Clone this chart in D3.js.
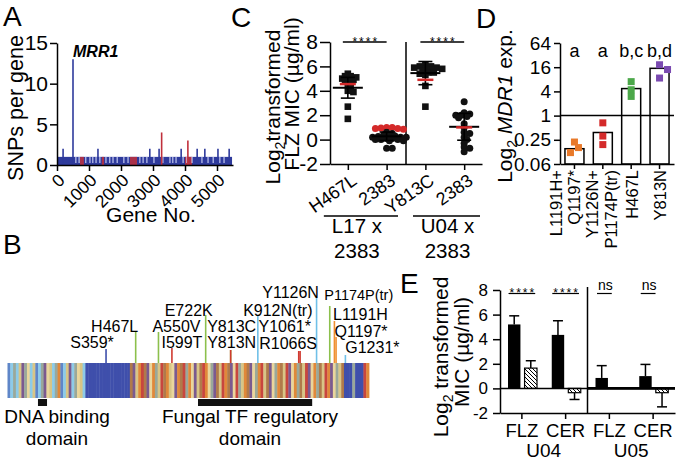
<!DOCTYPE html>
<html><head><meta charset="utf-8">
<script src="https://cdn.jsdelivr.net/npm/d3@7"></script>
<style>body{margin:0;background:#fff}svg{display:block}</style>
</head><body>
<svg id="fig" width="677" height="461" font-family="'Liberation Sans', Arial, Helvetica, sans-serif"></svg>
<script>
// ================= DATA =================
// Panel A: SNPs per gene
const geneTicks = [0, 1000, 2000, 3000, 4000, 5000];
const snpTicks = [0, 5, 10, 15];
const bandSegments = [[0, 5470]];               // genes carrying 1 SNP (blue band)
const bandRed = [[720, 840], [1400, 1470], [2280, 2500], [4000, 4220]];
const bandGaps = [590, 690, 900, 1030, 1120, 1220, 1340, 1530, 1650, 1750, 1880, 2090, 2220, 2590, 2690,
  2810, 3030, 3310, 3530, 3620, 3720, 3940, 4060, 4220, 4530, 4720, 4880, 5090, 5220];
const spikeGenes = [190, 500, 1280, 2900, 3190, 3270, 3880, 4090, 4380, 4620, 5030, 5380];
const spikeSNPs  = [2, 13, 2, 2, 2, 4, 2, 3, 2, 2, 2, 2];
const spikeType  = ['b', 'b', 'b', 'b', 'b', 'r', 'b', 'r', 'b', 'b', 'b', 'b'];

// Panel B: MRR1 protein
const proteinLength = 1317;
const stripeCodes = "9161346813916483162913416831" + "0000000000000000" +
  "7432574826357238427562843752864735274856327486253748627354826735482673524863" + "7" + "000600052";
const domainNames = [["DNA binding", "domain"], ["Fungal TF regulatory", "domain"]];
const domainStart = [111, 694];
const domainEnd = [144, 1110];
const mutNames = ['S359*', 'H467L', 'A550V', 'I599T', 'E722K', 'Y813C', 'Y813N', 'K912N(tr)', 'Y1061*', 'R1066S', 'Y1126N', 'P1174P(tr)', 'L1191H', 'Q1197*', 'G1231*'];
const mutPos = [359, 467, 550, 599, 722, 813, 813, 912, 1061, 1066, 1126, 1174, 1191, 1197, 1231];
const mutType = ['db', 'g', 'g', 'r', 'g', 'g', 'r', 'lb', 'r', 'r', 'lb', 'g', 'o', 'o', 'lb'];

// Panel C: log2 FLZ MIC
const cCats = ['H467L', '2383a', 'Y813C', '2383b'];
const cTickLabels = ['H467L', '2383', 'Y813C', '2383'];
const cShape = ['square', 'circle', 'square', 'circle'];
const cPoints = [
  [5.4, 5.2, 5.2, 5.1, 5.0, 5.0, 4.9, 4.8, 4.7, 4.5, 4.3, 4.0, 3.9, 2.7, 1.7],
  [0.6, 0.5, 0.4, 0.3, 0.3, 0.25, 0.2, 0.2, 0.2, 0.1, 0.1, 0.0, 0.0, 0.0, -0.1, -0.1, -0.7, -0.7],
  [6.1, 6.0, 6.0, 5.9, 5.9, 5.8, 5.8, 5.7, 5.6, 5.5, 5.5, 5.4, 5.3, 4.4, 2.7],
  [3.1, 2.2, 2.1, 2.0, 2.0, 1.9, 1.8, 1.3, 1.0, 0.6, 0.5, 0.2, 0.0, -0.3, -0.6, -0.7, -1.0]
];
const cRedPoints = [[], [1.0, 1.0, 0.95, 0.9, 0.9, 0.85], [], []];
const cMean = [4.25, 0.27, 5.45, 1.05];
const cSD = [0.85, 0.35, 0.95, 1.1];
const cRedMean = [4.55, 1.0, 4.9, 1.0];
const cGroups = [["L17 x", "2383"], ["U04 x", "2383"]];
const cSig = ['****', '****'];
const cTicks = [-2, 0, 2, 4, 6, 8];

// Panel D: MDR1 expression
const dLabels = [['L1191H+', 'Q1197*'], ['Y1126N+', 'P1174P(tr)'], ['H467L'], ['Y813N']];
const dBars = [0.15, 0.38, 4.7, 15];
const dPoints = [[0.22, 0.16, 0.12], [0.66, 0.31, 0.19], [7.0, 4.4, 3.0], [18.4, 14, 8.6]];
const dLetters = ['a', 'a', 'b,c', 'b,d'];
const dTicks = [0.0625, 0.25, 1, 4, 16, 64];
const dTickLabels = ['0.06', '0.25', '1', '4', '16', '64'];

// Panel E: log2 MIC
const eCats = ['FLZ-U04', 'CER-U04', 'FLZ-U05', 'CER-U05'];
const eDrug = ['FLZ', 'CER', 'FLZ', 'CER'];
const eStrains = ['U04', 'U05'];
const eMutant = [5.2, 4.35, 0.85, 1.0];
const eMutantErr = [0.7, 1.15, 1.0, 0.95];
const eParent = [1.65, -0.35, 0.0, -0.35];
const eParentErr = [0.6, 0.55, 0.0, 1.15];
const eSig = ['****', '****', 'ns', 'ns'];
const eTicks = [-2, 0, 2, 4, 6, 8];

// ================= STYLE =================
const BLUE = '#2e3a9c', RED = '#c0303c';
const palette = ['#3f4fab', '#8dcbe8', '#e0883a', '#d8c586', '#7b5a8f', '#c8463e', '#9aa89a', '#b07a4a', '#ead69c', '#5f86c8'];
const mutColor = {db: '#3f4fab', g: '#8cc04c', r: '#d03a30', lb: '#70c0e8', o: '#f09030'};
const dColors = ['#e8792a', '#d42a2a', '#4ca84a', '#7a4ab0'];

const svg = d3.select('#fig');
function styleAxis(g, fs) {
  g.attr('font-family', null);
  g.selectAll('.domain').attr('stroke', '#000').attr('stroke-width', 1.5);
  g.selectAll('.tick line').attr('stroke', '#000').attr('stroke-width', 1.5);
  g.selectAll('.tick text').attr('font-size', fs).attr('fill', '#000');
}
function panelLetter(t, x, y) {
  svg.append('text').attr('x', x).attr('y', y).attr('font-size', 28).text(t);
}
function swarm(items, yScale, cx, step, minDist) {
  const placed = [];
  const sorted = items.slice().sort((a, b) => b.v - a.v);
  for (const p of sorted) {
    const y = yScale(p.v);
    for (let k = 0; k < 60; k++) {
      const off = (k % 2 ? 1 : -1) * Math.ceil(k / 2) * step;
      const x = cx + off;
      if (placed.every(q => Math.hypot(q.x - x, q.y - y) >= minDist)) { placed.push(Object.assign({x, y}, p)); break; }
    }
  }
  return placed;
}
function stars(g, x, y, txt) {
  return g.append('text').attr('x', x).attr('y', y).attr('text-anchor', 'middle')
    .attr('font-size', 12).attr('letter-spacing', 2).text(txt);
}

// ================= PANEL A =================
panelLetter('A', 3, 26);
{
  const ax = d3.scaleLinear().domain([0, 5500]).range([57, 233]);
  const ay = d3.scaleLinear().domain([0, 15]).range([165, 43]);
  const g = svg.append('g');
  g.selectAll('rect.band').data(bandSegments).join('rect')
    .attr('x', d => ax(d[0])).attr('width', d => ax(d[1]) - ax(d[0]))
    .attr('y', ay(1)).attr('height', ay(0) - ay(1)).attr('fill', BLUE);
  g.selectAll('rect.red').data(bandRed).join('rect')
    .attr('x', d => ax(d[0])).attr('width', d => ax(d[1]) - ax(d[0]))
    .attr('y', ay(1)).attr('height', ay(0) - ay(1)).attr('fill', RED).attr('opacity', 0.85);
  g.selectAll('line.gap').data(bandGaps).join('line')
    .attr('x1', d => ax(d)).attr('x2', d => ax(d)).attr('y1', ay(1)).attr('y2', ay(0) - 2)
    .attr('stroke', '#dfe3ff').attr('stroke-width', 1);
  g.selectAll('line.spike').data(spikeGenes).join('line')
    .attr('x1', d => ax(d)).attr('x2', d => ax(d)).attr('y1', ay(0))
    .attr('y2', (d, i) => ay(spikeSNPs[i]))
    .attr('stroke', (d, i) => spikeType[i] === 'r' ? RED : BLUE).attr('stroke-width', 1.6);
  const yAx = g.append('g').attr('transform', 'translate(57,0)')
    .call(d3.axisLeft(ay).tickValues(snpTicks).tickSize(7).tickSizeOuter(0).tickPadding(2));
  styleAxis(yAx, 21);
  const xAx = g.append('g').attr('transform', 'translate(0,165)')
    .call(d3.axisBottom(ax).tickValues(geneTicks).tickSize(6).tickSizeOuter(0).tickFormat(d => String(d)));
  styleAxis(xAx, 17.5);
  xAx.selectAll('.tick text').attr('x', 0).attr('y', 0).attr('dy', '0.35em')
    .attr('text-anchor', 'end').attr('transform', 'translate(4,12) rotate(-45)');
  g.append('text').attr('x', ax(spikeGenes[1])).attr('y', 57).attr('font-size', 16)
    .attr('font-weight', 'bold').attr('font-style', 'italic').text('MRR1');
  g.append('text').attr('transform', 'translate(23,108) rotate(-90)').attr('text-anchor', 'middle')
    .attr('font-size', 21.5).text('SNPs per gene');
  g.append('text').attr('x', 151).attr('y', 222).attr('text-anchor', 'middle')
    .attr('font-size', 21).text('Gene No.');
}

// ================= PANEL B =================
panelLetter('B', 3, 254);
{
  const px = d3.scaleLinear().domain([0, proteinLength]).range([7.5, 369]);
  const g = svg.append('g');
  const codes = stripeCodes.split('');
  const w = proteinLength / codes.length;
  g.selectAll('rect.stripe').data(codes).join('rect')
    .attr('x', (d, i) => px(i * w)).attr('width', (d, i) => px((i + 1) * w) - px(i * w) + 0.4)
    .attr('y', 363).attr('height', 35).attr('fill', d => palette[+d]);
  // mutation lines & labels (layout: label centre offsets, label baselines, line tops, sizes)
  const labelDx = [-14, -21, 18, 10, -17, 1, 1, 20, -14, -12, -26, 29, 26, 25, 27];
  const labelY  = [348, 332, 332, 348, 316, 332, 348, 316, 332, 349, 298, 300, 320, 337, 353];
  const labelFs = [16, 16, 16, 16, 16, 16, 16, 16, 16, 16, 16, 14.5, 16, 16, 16];
  const lineTop = [349, 332, 332, 348, 315, 350, 350, 315, 351, 351, 298, 306, 321, 337, 355];
  g.selectAll('line.mut').data(mutPos).join('line')
    .attr('x1', d => px(d)).attr('x2', d => px(d)).attr('y1', 363).attr('y2', (d, i) => lineTop[i])
    .attr('stroke', (d, i) => mutColor[mutType[i]]).attr('stroke-width', 1.6);
  g.selectAll('text.mut').data(mutNames).join('text')
    .attr('x', (d, i) => px(mutPos[i]) + labelDx[i]).attr('y', (d, i) => labelY[i])
    .attr('text-anchor', 'middle').attr('font-size', (d, i) => labelFs[i]).text(d => d);
  // domains
  const dLabelX = [57, 250];
  g.selectAll('rect.dom').data(domainStart).join('rect')
    .attr('x', d => px(d)).attr('width', (d, i) => px(domainEnd[i]) - px(d))
    .attr('y', 399).attr('height', 7).attr('fill', '#111');
  domainNames.forEach((lines, i) => {
    lines.forEach((t, j) => {
      g.append('text').attr('x', dLabelX[i]).attr('y', 423 + j * 22).attr('text-anchor', 'middle')
        .attr('font-size', 19).text(t);
    });
  });
}

// ================= PANEL C =================
panelLetter('C', 231, 27);
{
  const cx = d3.scalePoint().domain(cCats).range([330, 482]).padding(0.46);
  const cy = d3.scaleLinear().domain([-2, 8]).range([164, 42]);
  const g = svg.append('g');
  const yAx = g.append('g').attr('transform', 'translate(330,0)')
    .call(d3.axisLeft(cy).tickValues(cTicks).tickSize(10).tickSizeOuter(0).tickPadding(2).tickFormat(d => String(d)));
  styleAxis(yAx, 21);
  const xAx = g.append('g').attr('transform', 'translate(0,164)')
    .call(d3.axisBottom(cx).tickSize(6).tickSizeOuter(0).tickFormat((d, i) => cTickLabels[i]));
  styleAxis(xAx, 18);
  xAx.selectAll('.tick text').attr('x', 0).attr('y', 0).attr('dy', '0.35em')
    .attr('text-anchor', 'end').attr('transform', 'translate(6,14) rotate(-35)');
  const divX = (cx(cCats[1]) + cx(cCats[2])) / 2;
  g.append('line').attr('x1', divX).attr('x2', divX).attr('y1', cy(8)).attr('y2', cy(-2))
    .attr('stroke', '#000').attr('stroke-width', 1.5);
  [[0, 1], [2, 3]].forEach((pr, i) => {
    const x1 = cx(cCats[pr[0]]) - 5, x2 = cx(cCats[pr[1]]);
    g.append('line').attr('x1', x1).attr('x2', x2).attr('y1', cy(8)).attr('y2', cy(8))
      .attr('stroke', '#000').attr('stroke-width', 1.3);
    stars(g, (x1 + x2) / 2 + 1, cy(8) + 3.6, cSig[i]);
  });
  cCats.forEach((c, i) => {
    const items = cPoints[i].map(v => ({v, col: '#111'})).concat(cRedPoints[i].map(v => ({v, col: '#d42a2a'})));
    const pts = swarm(items, cy, cx(c), 2.8, 3.4);
    if (cShape[i] === 'square') {
      g.selectAll(null).data(pts).join('rect').attr('x', d => d.x - 3.3).attr('y', d => d.y - 3.3)
        .attr('width', 6.6).attr('height', 6.6).attr('fill', d => d.col);
    } else {
      g.selectAll(null).data(pts).join('circle').attr('cx', d => d.x).attr('cy', d => d.y)
        .attr('r', 3.5).attr('fill', d => d.col);
    }
    const x0 = cx(c);
    g.append('line').attr('x1', x0).attr('x2', x0).attr('y1', cy(cMean[i] - cSD[i])).attr('y2', cy(cMean[i] + cSD[i]))
      .attr('stroke', '#000').attr('stroke-width', 1.6);
    [cMean[i] - cSD[i], cMean[i] + cSD[i]].forEach(v => {
      g.append('line').attr('x1', x0 - 7).attr('x2', x0 + 7).attr('y1', cy(v)).attr('y2', cy(v))
        .attr('stroke', '#000').attr('stroke-width', 1.6);
    });
    g.append('line').attr('x1', x0 - 15).attr('x2', x0 + 15).attr('y1', cy(cMean[i])).attr('y2', cy(cMean[i]))
      .attr('stroke', '#000').attr('stroke-width', 2);
    g.append('line').attr('x1', x0 - 8).attr('x2', x0 + 8).attr('y1', cy(cRedMean[i])).attr('y2', cy(cRedMean[i]))
      .attr('stroke', '#d42a2a').attr('stroke-width', 2.5);
  });
  const brackets = [[cx(cCats[0]) - 24, divX - 8], [divX + 7, 480]];
  brackets.forEach((b, i) => {
    g.append('line').attr('x1', b[0]).attr('x2', b[1]).attr('y1', 216).attr('y2', 216)
      .attr('stroke', '#000').attr('stroke-width', 1.3);
    const mid = i === 0 ? (b[0] + b[1]) / 2 - 4 : (b[0] + b[1]) / 2 + 1;
    cGroups[i].forEach((t, j) => {
      g.append('text').attr('x', mid).attr('y', 233 + j * 25).attr('text-anchor', 'middle')
        .attr('font-size', 20.5).text(t);
    });
  });
  const t1 = g.append('text').attr('transform', 'translate(280,107) rotate(-90)').attr('text-anchor', 'middle').attr('font-size', 21);
  t1.append('tspan').text('Log');
  t1.append('tspan').attr('dy', 5).attr('font-size', 14).text('2');
  t1.append('tspan').attr('dy', -5).text('transformed');
  g.append('text').attr('transform', 'translate(299,94) rotate(-90)').attr('text-anchor', 'middle')
    .attr('font-size', 21).text('FLZ MIC (µg/ml)');
}

// ================= PANEL D =================
panelLetter('D', 476, 28);
{
  const dx = d3.scaleBand().domain(d3.range(dBars.length)).range([560, 674]).paddingInner(0.33).paddingOuter(0.175);
  const dy = d3.scaleLog().base(2).domain([0.0625, 64]).range([164, 43]);
  const g = svg.append('g');
  g.selectAll('rect.bar').data(dBars).join('rect')
    .attr('x', (d, i) => dx(i)).attr('width', dx.bandwidth())
    .attr('y', d => dy(d)).attr('height', d => dy(0.0625) - dy(d))
    .attr('fill', '#fff').attr('stroke', '#000').attr('stroke-width', 1.5);
  dPoints.forEach((arr, i) => {
    const pts = swarm(arr.map(v => ({v})), dy, dx(i) + dx.bandwidth() / 2, 4, 6.5);
    g.selectAll(null).data(pts).join('rect').attr('x', d => d.x - 3.5).attr('y', d => d.y - 3.5)
      .attr('width', 7).attr('height', 7).attr('fill', dColors[i]);
  });
  g.append('line').attr('x1', 560).attr('x2', 674).attr('y1', dy(1)).attr('y2', dy(1))
    .attr('stroke', '#000').attr('stroke-width', 1.5);
  const yAx = g.append('g').attr('transform', 'translate(560,0)')
    .call(d3.axisLeft(dy).tickValues(dTicks).tickSize(6).tickSizeOuter(0).tickPadding(3)
      .tickFormat((d, i) => dTickLabels[i]));
  styleAxis(yAx, 19);
  const xAx = g.append('g').attr('transform', 'translate(0,164)')
    .call(d3.axisBottom(dx).tickSize(5).tickSizeOuter(0).tickFormat(''));
  styleAxis(xAx, 16);
  const dLabelOff = [[-12, 5.5], [-5, 14], [6.5], [6]];
  dLabels.forEach((lines, i) => {
    const c = dx(i) + dx.bandwidth() / 2;
    lines.forEach((t, j) => {
      const bx = c + dLabelOff[i][j];
      g.append('text').attr('transform', `translate(${bx},170) rotate(-90)`).attr('text-anchor', 'end')
        .attr('font-size', 16.5).text(t);
    });
  });
  g.selectAll('text.letter').data(dLetters).join('text')
    .attr('x', (d, i) => dx(i) + dx.bandwidth() / 2).attr('y', 57).attr('text-anchor', 'middle')
    .attr('font-size', 18).text(d => d);
  const t = g.append('text').attr('transform', 'translate(512,106) rotate(-90)').attr('text-anchor', 'middle').attr('font-size', 21);
  t.append('tspan').text('Log');
  t.append('tspan').attr('dy', 5).attr('font-size', 14).text('2');
  t.append('tspan').attr('dy', -5).text(' ');
  t.append('tspan').attr('font-style', 'italic').text('MDR1');
  t.append('tspan').text(' exp.');
}

// ================= PANEL E =================
panelLetter('E', 400, 293);
{
  const ex = d3.scaleBand().domain(eCats).range([500, 675]);
  const inner = d3.scaleBand().domain(['mut', 'par']).range([8, 37]).paddingInner(0.25);
  const ey = d3.scaleLinear().domain([-2, 8]).range([413, 290]);
  const g = svg.append('g');
  const defs = svg.append('defs');
  const pat = defs.append('pattern').attr('id', 'hatch').attr('patternUnits', 'userSpaceOnUse')
    .attr('width', 4).attr('height', 4);
  pat.append('rect').attr('width', 4).attr('height', 4).attr('fill', '#fff');
  pat.append('path').attr('d', 'M-1,-1 L5,5 M-1,3 L1,5 M3,-1 L5,1').attr('stroke', '#000').attr('stroke-width', 1);

  const series = [
    {key: 'mut', vals: eMutant, errs: eMutantErr, fill: '#000'},
    {key: 'par', vals: eParent, errs: eParentErr, fill: 'url(#hatch)'}
  ];
  series.forEach(s => {
    g.selectAll(null).data(eCats).join('g').each(function (c, i) {
      const v = s.vals[i], e = s.errs[i];
      if (e <= 0) return;
      const x = ex(c) + inner(s.key) + inner.bandwidth() / 2;
      const end = v >= 0 ? v + e : v - e;
      const sel = d3.select(this);
      sel.append('line').attr('x1', x).attr('x2', x).attr('y1', ey(v)).attr('y2', ey(end))
        .attr('stroke', '#000').attr('stroke-width', 1.5);
      sel.append('line').attr('x1', x - 5).attr('x2', x + 5).attr('y1', ey(end)).attr('y2', ey(end))
        .attr('stroke', '#000').attr('stroke-width', 1.5);
    });
    g.selectAll(null).data(eCats).join('rect')
      .attr('x', c => ex(c) + inner(s.key)).attr('width', inner.bandwidth())
      .attr('y', (c, i) => ey(Math.max(0, s.vals[i])))
      .attr('height', (c, i) => Math.abs(ey(s.vals[i]) - ey(0)))
      .attr('fill', s.fill).attr('stroke', '#000').attr('stroke-width', s.key === 'par' ? 1.2 : 0);
  });
  g.append('line').attr('x1', 500).attr('x2', 675).attr('y1', ey(0)).attr('y2', ey(0))
    .attr('stroke', '#000').attr('stroke-width', 1.5);
  const divX = ex(eCats[2]);
  g.append('line').attr('x1', divX).attr('x2', 675).attr('y1', ey(0)).attr('y2', ey(0))
    .attr('stroke', '#000').attr('stroke-width', 2.6);
  g.append('line').attr('x1', divX).attr('x2', divX).attr('y1', ey(8) - 3).attr('y2', ey(-2))
    .attr('stroke', '#000').attr('stroke-width', 1.5);
  const yAx = g.append('g').attr('transform', 'translate(500,0)')
    .call(d3.axisLeft(ey).tickValues(eTicks).tickSize(7).tickSizeOuter(0).tickPadding(5).tickFormat(d => String(d)));
  styleAxis(yAx, 17);
  const xAx = g.append('g').attr('transform', 'translate(0,413)')
    .call(d3.axisBottom(ex).tickSize(6).tickSizeOuter(0).tickPadding(5).tickFormat((d, i) => eDrug[i]));
  styleAxis(xAx, 18.5);
  eStrains.forEach((s, i) => {
    const x = (ex(eCats[2 * i]) + ex(eCats[2 * i + 1]) + ex.bandwidth()) / 2;
    g.append('text').attr('x', x).attr('y', 457).attr('text-anchor', 'middle').attr('font-size', 19).text(s);
  });
  eCats.forEach((c, i) => {
    const isStar = eSig[i] !== 'ns';
    const x = ex(c) + ex.bandwidth() / 2 + (isStar ? 1 : -4);
    let t;
    if (isStar) t = stars(g, x, 296.6, eSig[i]);
    else t = g.append('text').attr('x', x).attr('y', 290).attr('text-anchor', 'middle').attr('font-size', 14).text(eSig[i]);
    const w = Math.max(t.node().getComputedTextLength(), 14);
    g.append('line').attr('x1', x - w / 2 - 1).attr('x2', x + w / 2 - 1).attr('y1', 293.5).attr('y2', 293.5)
      .attr('stroke', '#000').attr('stroke-width', 1.2);
  });
  const t1 = g.append('text').attr('transform', 'translate(448,357) rotate(-90)').attr('text-anchor', 'middle').attr('font-size', 21);
  t1.append('tspan').text('Log');
  t1.append('tspan').attr('dy', 5).attr('font-size', 14).text('2');
  t1.append('tspan').attr('dy', -5).text(' transformed');
  g.append('text').attr('transform', 'translate(469,352) rotate(-90)').attr('text-anchor', 'middle')
    .attr('font-size', 21).text('MIC (µg/ml)');
}
</script>
</body></html>
